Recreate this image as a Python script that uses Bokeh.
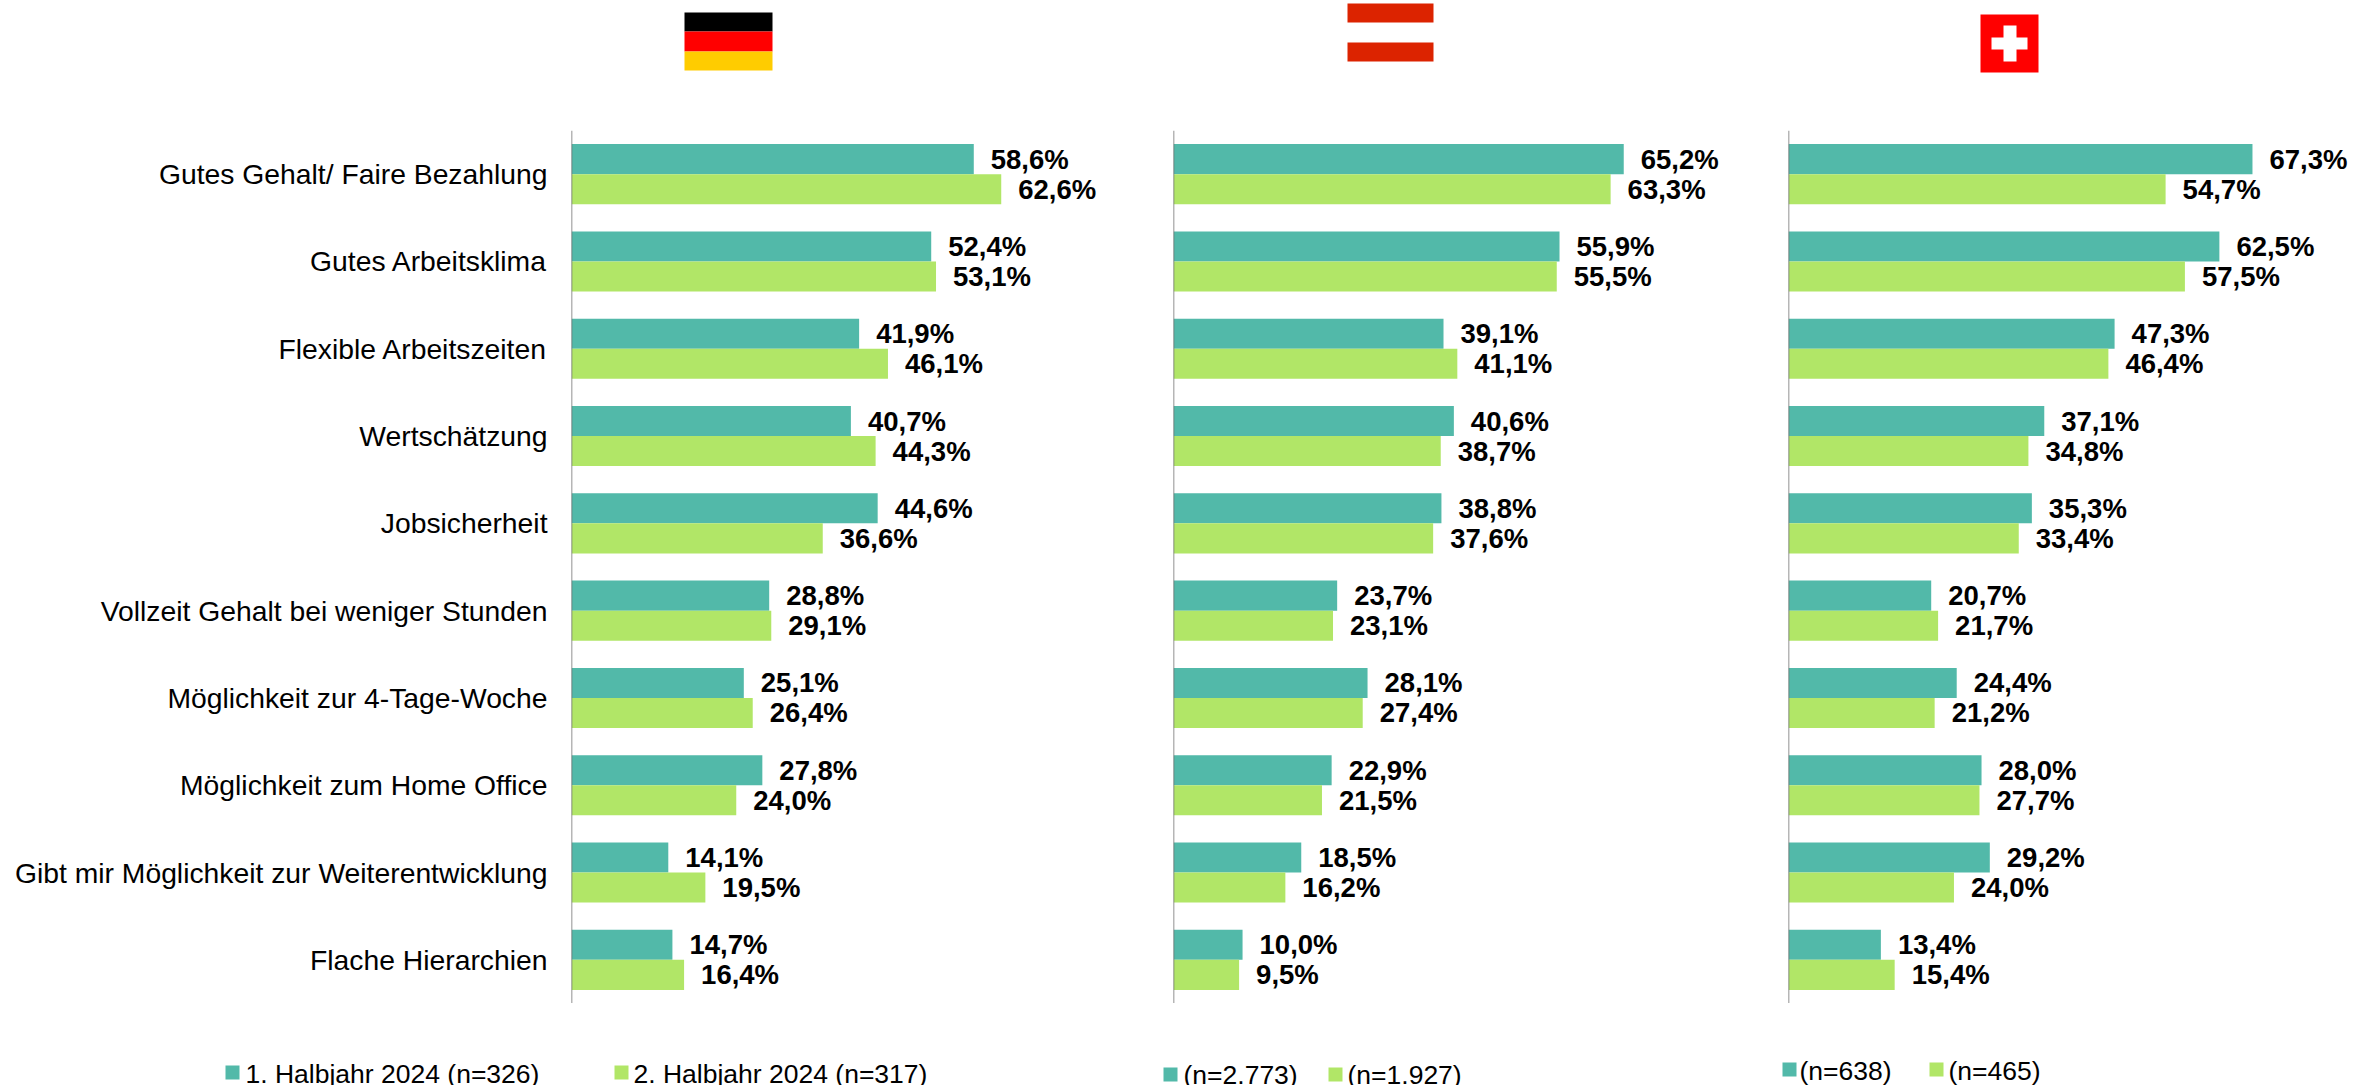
from bokeh.embed import file_html
from bokeh.resources import INLINE
from bokeh.core.properties import value
from bokeh.layouts import column, row
from bokeh.models import ColumnDataSource, FactorRange, Range1d, Span
from bokeh.plotting import figure
from bokeh.transform import dodge

categories = ["Gutes Gehalt/ Faire Bezahlung", "Gutes Arbeitsklima", "Flexible Arbeitszeiten",
              "Wertschätzung", "Jobsicherheit", "Vollzeit Gehalt bei weniger Stunden",
              "Möglichkeit zur 4-Tage-Woche", "Möglichkeit zum Home Office",
              "Gibt mir Möglichkeit zur Weiterentwicklung", "Flache Hierarchien"]
de_h1 = [58.6, 52.4, 41.9, 40.7, 44.6, 28.8, 25.1, 27.8, 14.1, 14.7]
de_h2 = [62.6, 53.1, 46.1, 44.3, 36.6, 29.1, 26.4, 24.0, 19.5, 16.4]
at_h1 = [65.2, 55.9, 39.1, 40.6, 38.8, 23.7, 28.1, 22.9, 18.5, 10.0]
at_h2 = [63.3, 55.5, 41.1, 38.7, 37.6, 23.1, 27.4, 21.5, 16.2, 9.5]
ch_h1 = [67.3, 62.5, 47.3, 37.1, 35.3, 20.7, 24.4, 28.0, 29.2, 13.4]
ch_h2 = [54.7, 57.5, 46.4, 34.8, 33.4, 21.7, 21.2, 27.7, 24.0, 15.4]
legend_de = ["1. Halbjahr 2024 (n=326)", "2. Halbjahr 2024 (n=317)"]
legend_at = ["(n=2.773)", "(n=1.927)"]
legend_ch = ["(n=638)", "(n=465)"]

TEAL = "#52b9a9"
LIME = "#b1e667"
FONT = "Liberation Sans"
TOP, MID, BOT = 130, 873, 82


def fmt(v):
    return f"{v:.1f}".replace(".", ",") + "%"


def strip(ox, right_x, y0, y1):
    """A figure whose data units are the page's pixels, for flags and legends."""
    p = figure(width=right_x - ox, height=y1 - y0, output_backend="svg", toolbar_location=None,
               x_range=Range1d(ox, right_x), y_range=Range1d(y1, y0),
               min_border=0, outline_line_color=None, frame_align=False)
    p.axis.visible = False
    p.grid.visible = False
    return p


def panel(ox, axis_x, right_x, xmax, h1, h2, labels, swatches, text_x, leg_y, text_y, flag, show_cats):
    top = strip(ox, right_x, 0, TOP)
    top.quad(left=[f[0] for f in flag], right=[f[1] for f in flag], top=[f[2] for f in flag],
             bottom=[f[3] for f in flag], fill_color=[f[4] for f in flag], line_color=None)

    p = figure(width=right_x - ox, height=MID, output_backend="svg", toolbar_location=None,
               x_range=Range1d(0, xmax), y_range=FactorRange(factors=categories[::-1]),
               min_border_left=axis_x - ox, min_border_right=0,
               min_border_top=0, min_border_bottom=0, outline_line_color=None, frame_align=False)
    p.xaxis.visible = False
    p.grid.visible = False
    if show_cats:
        ax = p.yaxis[0]
        ax.major_tick_line_color = None
        ax.minor_tick_line_color = None
        ax.axis_line_color = None
        ax.major_label_standoff = 18
        ax.major_label_text_font = FONT
        ax.major_label_text_font_size = "28.3px"
        ax.major_label_text_color = "#000000"
    else:
        p.yaxis.visible = False
    p.add_layout(Span(location=0, dimension="height", line_color="#6e6e6e", line_width=1.5))
    src = ColumnDataSource(dict(cat=categories, h1=h1, h2=h2,
                                l1=[fmt(v) for v in h1], l2=[fmt(v) for v in h2]))
    for col, lab, off, color in (("h1", "l1", 0.172, TEAL), ("h2", "l2", -0.172, LIME)):
        yy = dodge("cat", off, range=p.y_range)
        p.hbar(y=yy, left=0, right=col, height=0.344, source=src, fill_color=color, line_color=None)
        p.text(x=col, y=yy, text=lab, source=src, x_offset=17, text_align="left",
               text_baseline="middle", text_font=value(FONT), text_font_style="bold",
               text_font_size="27.5px", text_color="#000000")

    bot = strip(ox, right_x, TOP + MID, TOP + MID + BOT)
    bot.quad(left=list(swatches), right=[s + 14 for s in swatches], top=[leg_y - 7] * 2,
             bottom=[leg_y + 7] * 2, fill_color=[TEAL, LIME], line_color=None)
    bot.text(x=list(text_x), y=[text_y] * 2, text=labels, text_font=value(FONT),
             text_font_size="26.5px", text_color="#000000", text_align="left",
             text_baseline="middle")
    return column(top, p, bot, spacing=0)


flag_de = [(684, 772, 12, 31, "#000000"), (684, 772, 31, 51, "#ff0000"), (684, 772, 51, 70, "#ffcc00")]
flag_at = [(1347, 1433, 3, 22, "#dc2300"), (1347, 1433, 42, 61, "#dc2300")]
flag_ch = [(1980, 2038, 14, 72, "#ff0000"), (2003, 2016, 25, 61, "#ffffff"), (1991, 2027, 37, 49, "#ffffff")]

p1 = panel(0, 571, 1160, 85.8, de_h1, de_h2, legend_de, (225, 614), (245, 633), 1072, 1073, flag_de, True)
p2 = panel(1160, 1173, 1780, 87.9, at_h1, at_h2, legend_at, (1163, 1328), (1183, 1347), 1074, 1074, flag_at, False)
p3 = panel(1780, 1788, 2374, 85.0, ch_h1, ch_h2, legend_ch, (1782, 1929), (1799, 1948), 1069, 1070, flag_ch, False)

layout = row(p1, p2, p3, spacing=0)
open("out.html", "w").write(file_html(layout, INLINE))
